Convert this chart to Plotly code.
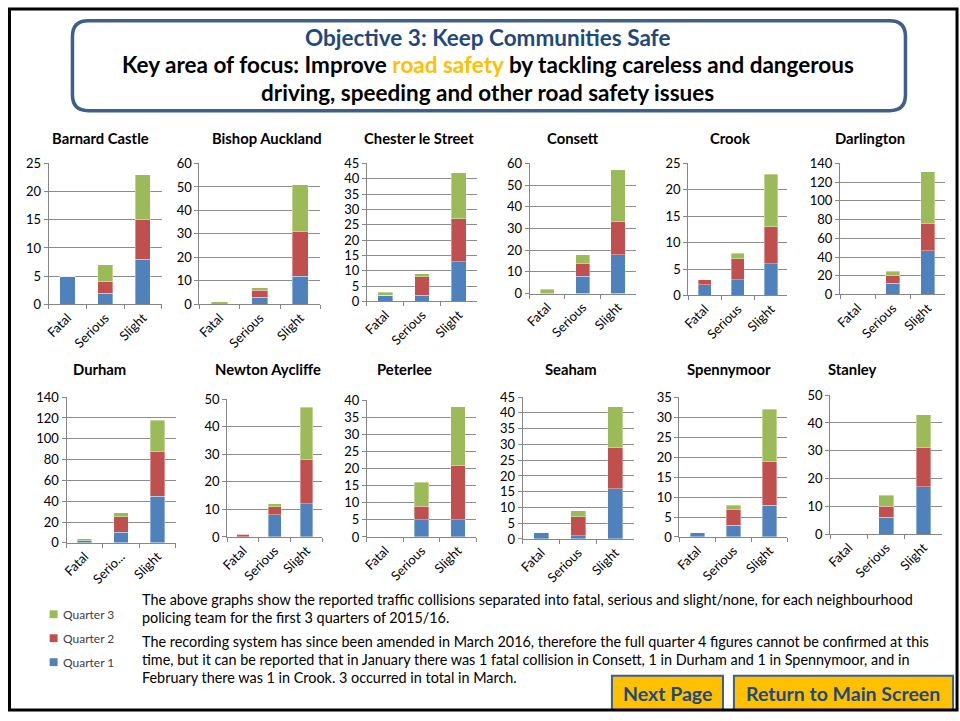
import plotly.graph_objects as go

W, H = 960, 721
FONT = "Lato"

areas = [
    "Barnard Castle", "Bishop Auckland", "Chester le Street", "Consett",
    "Crook", "Darlington", "Durham", "Newton Aycliffe", "Peterlee",
    "Seaham", "Spennymoor", "Stanley",
]
categories = ["Fatal", "Serious", "Slight"]

# values per area: [fatal, serious, slight]
quarter_1 = [
    [5, 2, 8], [0, 3, 12], [2, 2, 13], [0, 8, 18], [2, 3, 6], [0, 12, 47],
    [2, 10, 45], [0, 8, 12], [0, 5, 5], [2, 1, 16], [1, 3, 8], [0, 6, 17],
]
quarter_2 = [
    [0, 2, 7], [0, 3, 19], [0, 6, 14], [0, 6, 15], [1, 4, 7], [0, 8, 29],
    [0, 15, 43], [1, 3, 16], [0, 4, 16], [0, 6, 13], [0, 4, 11], [0, 4, 14],
]
quarter_3 = [
    [0, 3, 8], [1, 1, 20], [1, 1, 15], [2, 4, 24], [0, 1, 10], [0, 5, 55],
    [2, 4, 30], [0, 1, 19], [0, 7, 17], [0, 2, 13], [0, 1, 13], [0, 4, 12],
]
y_max = [25, 60, 45, 60, 25, 140, 140, 50, 40, 45, 35, 50]
y_step = [5, 10, 5, 10, 5, 20, 20, 10, 5, 5, 5, 10]

# panel plot areas in pixels: left, right, top, bottom
panel_boxes = [
    (41, 155, 159, 303), (193, 315, 159, 303), (362, 473, 159, 300),
    (526, 633, 159, 292), (686, 786, 159, 294), (839, 945, 159, 293),
    (59, 169, 398, 547), (221, 317, 400, 541), (362, 472, 401, 541),
    (519, 631, 398, 543), (677, 786, 398, 541), (829, 942, 396, 538),
]
title_pos = [
    (93, 133), (261, 133), (414, 133), (570, 133), (728, 133), (869, 133),
    (92, 369), (262, 369), (400, 369), (568, 369), (727, 369), (852, 369),
]

series = [
    ("Quarter 1", quarter_1, "#4F81BD"),
    ("Quarter 2", quarter_2, "#C0504D"),
    ("Quarter 3", quarter_3, "#9BBB59"),
]


def px(x):
    return x / W


def py(y):
    return 1 - y / H


fig = go.Figure()
annotations = []
shapes = []

for i, area in enumerate(areas):
    n = "" if i == 0 else str(i + 1)
    for name, values, color in series:
        fig.add_trace(
            go.Bar(
                x=categories,
                y=values[i],
                name=name,
                marker=dict(color=color, line=dict(width=0.6, color="rgba(255,255,255,0.6)")),
                xaxis="x" + n,
                yaxis="y" + n,
                showlegend=False,
            )
        )
    left, right, top, bottom = panel_boxes[i]
    ticktext = ["Fatal", "Serio...", "Slight"] if area == "Durham" else categories
    fig.update_layout(
        {
            "xaxis" + n: dict(
                domain=[px(left), px(right)],
                anchor="y" + n,
                type="category",
                range=[-0.5, 2.5],
                tickvals=categories,
                ticktext=ticktext,
                tickangle=-45,
                showline=True,
                linecolor="#868686",
                ticks="outside",
                tickson="boundaries",
                ticklen=4,
                tickcolor="#868686",
                showgrid=False,
                tickfont=dict(family=FONT, size=13, color="#000000"),
                fixedrange=True,
            ),
            "yaxis" + n: dict(
                domain=[py(bottom), py(top)],
                anchor="x" + n,
                range=[0, y_max[i]],
                dtick=y_step[i],
                showline=True,
                linecolor="#868686",
                ticks="outside",
                ticklen=4,
                tickcolor="#868686",
                showgrid=True,
                gridcolor="#8C8C8C",
                gridwidth=1,
                zeroline=False,
                tickfont=dict(family=FONT, size=13, color="#000000"),
                fixedrange=True,
            ),
        }
    )
    tx, ty = title_pos[i]
    annotations.append(
        dict(
            text=f"<b>{area}</b>", x=px(tx), y=py(ty), xref="paper", yref="paper",
            showarrow=False, xanchor="center", yanchor="middle",
            font=dict(family=FONT, size=14.8, color="#000000"),
        )
    )

# legend (Quarter 3 on top)
for k, (name, _, color) in enumerate(reversed(series)):
    yy = 620 + k * 24.5
    shapes.append(
        dict(type="rect", xref="paper", yref="paper",
             x0=px(42), x1=px(50), y0=py(yy + 4), y1=py(yy - 4),
             fillcolor=color, line=dict(width=0))
    )
    annotations.append(
        dict(text=name, x=px(53), y=py(yy), xref="paper", yref="paper",
             showarrow=False, xanchor="left", yanchor="middle",
             font=dict(family=FONT, size=12, color="#404040"))
    )

# header box with rounded corners
x0, x1, y0, y1, r = px(65), px(905), py(13), py(105), 16
rx, ry = r / W, r / H
path = (
    f"M {x0 + rx},{y0} L {x1 - rx},{y0} Q {x1},{y0} {x1},{y0 - ry} "
    f"L {x1},{y1 + ry} Q {x1},{y1} {x1 - rx},{y1} "
    f"L {x0 + rx},{y1} Q {x0},{y1} {x0},{y1 + ry} "
    f"L {x0},{y0 - ry} Q {x0},{y0} {x0 + rx},{y0} Z"
)
shapes.append(dict(type="path", path=path, xref="paper", yref="paper",
                   line=dict(color="#3D5F8C", width=3.5), fillcolor="white"))

header_lines = [
    ("<b>Objective 3: Keep Communities Safe</b>", 30, "#1F497D"),
    ("<b>Key area of focus: Improve <span style='color:#FFC000'>road safety</span>"
     " by tackling careless and dangerous</b>", 58, "#000000"),
    ("<b>driving, speeding and other road safety issues</b>", 86, "#000000"),
]
for text, yy, color in header_lines:
    annotations.append(
        dict(text=text, x=px(484), y=py(yy), xref="paper", yref="paper",
             showarrow=False, xanchor="center", yanchor="middle",
             font=dict(family=FONT, size=22.5, color=color))
    )

# explanatory text
body_lines = [
    ("The above graphs show the reported traffic collisions separated into fatal, serious and slight/none, for each neighbourhood", 605),
    ("policing team for the first 3 quarters of 2015/16.", 623),
    ("The recording system has since been amended in March 2016, therefore the full quarter 4 figures cannot be confirmed at this", 648),
    ("time, but it can be reported that in January there was 1 fatal collision in Consett, 1 in Durham and 1 in Spennymoor, and in", 666),
    ("February there was 1 in Crook. 3 occurred in total in March.", 685),
]
for text, yy in body_lines:
    annotations.append(
        dict(text=text, x=px(133), y=py(yy), xref="paper", yref="paper",
             showarrow=False, xanchor="left", yanchor="middle",
             font=dict(family=FONT, size=14.4, color="#000000"))
    )

# buttons
buttons = [("Next Page", 609, 721), ("Return to Main Screen", 732, 953)]
for label, bx0, bx1 in buttons:
    shapes.append(
        dict(type="rect", xref="paper", yref="paper",
             x0=px(bx0), x1=px(bx1), y0=py(718), y1=py(683),
             fillcolor="#FFC000", line=dict(color="#3D5F8C", width=2))
    )
    annotations.append(
        dict(text=f"<b>{label}</b>", x=px((bx0 + bx1) / 2), y=py(701),
             xref="paper", yref="paper", showarrow=False,
             xanchor="center", yanchor="middle",
             font=dict(family=FONT, size=19.5, color="#1F497D"))
    )

# page border
shapes.append(
    dict(type="rect", xref="paper", yref="paper",
         x0=px(1.5), x1=px(957), y0=py(718), y1=py(1),
         line=dict(color="#000000", width=3), fillcolor="rgba(0,0,0,0)", layer="above")
)

fig.update_layout(
    width=W,
    height=H,
    margin=dict(l=0, r=0, t=0, b=0),
    paper_bgcolor="white",
    plot_bgcolor="white",
    barmode="stack",
    bargap=0.6,
    showlegend=False,
    annotations=annotations,
    shapes=shapes,
    font=dict(family=FONT),
)

fig.write_html(
    "out.html",
    config={"displayModeBar": False},
    post_script="document.body.style.margin='0';document.documentElement.style.overflow='hidden';",
)
